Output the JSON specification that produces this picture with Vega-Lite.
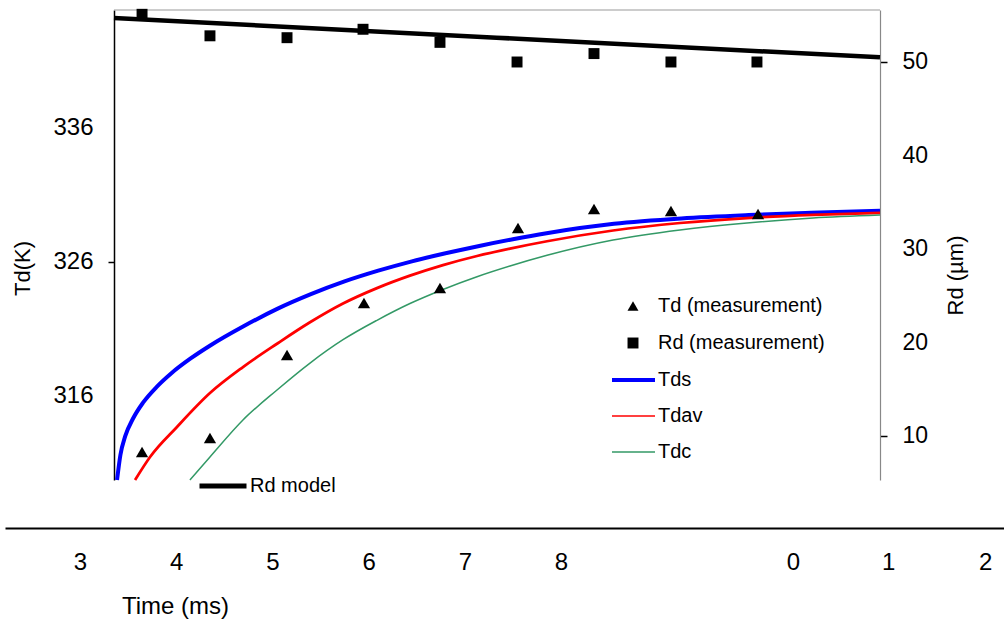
{
  "$schema": "https://vega.github.io/schema/vega-lite/v6.json",
  "width": 999,
  "height": 470,
  "autosize": {"type": "none"},
  "padding": {"left": 5, "top": 10, "right": 0, "bottom": 143},
  "background": "white",
  "config": {
    "view": {"stroke": null},
    "font": "Liberation Sans",
    "axis": {"grid": false, "labelFont": "Liberation Sans", "titleFont": "Liberation Sans", "titleFontWeight": "normal", "labelColor": "black", "titleColor": "black"},
    "legend": {"labelFont": "Liberation Sans", "labelFontSize": 20, "labelColor": "black", "padding": 0, "labelLimit": 0}
  },
  "datasets": {
    "tdModel": [
      {"t": 3.385, "Td": 309.73, "series": "Tds"}, {"t": 3.42, "Td": 311.6, "series": "Tds"}, {"t": 3.47, "Td": 313.0, "series": "Tds"}, {"t": 3.55, "Td": 314.3, "series": "Tds"}, {"t": 3.655, "Td": 315.5, "series": "Tds"}, {"t": 3.8, "Td": 316.7, "series": "Tds"}, {"t": 3.95, "Td": 317.7, "series": "Tds"}, {"t": 4.15, "Td": 318.8, "series": "Tds"}, {"t": 4.35, "Td": 319.75, "series": "Tds"}, {"t": 4.7, "Td": 321.2, "series": "Tds"}, {"t": 5.05, "Td": 322.5, "series": "Tds"}, {"t": 5.4, "Td": 323.6, "series": "Tds"}, {"t": 5.75, "Td": 324.55, "series": "Tds"}, {"t": 6.1, "Td": 325.35, "series": "Tds"}, {"t": 6.45, "Td": 326.05, "series": "Tds"}, {"t": 6.8, "Td": 326.65, "series": "Tds"}, {"t": 7.15, "Td": 327.2, "series": "Tds"}, {"t": 7.5, "Td": 327.7, "series": "Tds"}, {"t": 7.85, "Td": 328.15, "series": "Tds"}, {"t": 8.55, "Td": 328.85, "series": "Tds"}, {"t": 9.25, "Td": 329.25, "series": "Tds"}, {"t": 9.95, "Td": 329.5, "series": "Tds"}, {"t": 10.6, "Td": 329.67, "series": "Tds"}, {"t": 11.316, "Td": 329.82, "series": "Tds"},
      {"t": 3.572, "Td": 309.73, "series": "Tdav"}, {"t": 3.728, "Td": 311.45, "series": "Tdav"}, {"t": 4.008, "Td": 313.69, "series": "Tdav"}, {"t": 4.351, "Td": 316.22, "series": "Tdav"}, {"t": 4.694, "Td": 318.16, "series": "Tdav"}, {"t": 5.048, "Td": 319.9, "series": "Tdav"}, {"t": 5.391, "Td": 321.5, "series": "Tdav"}, {"t": 5.734, "Td": 322.9, "series": "Tdav"}, {"t": 6.087, "Td": 324.05, "series": "Tdav"}, {"t": 6.43, "Td": 324.98, "series": "Tdav"}, {"t": 6.773, "Td": 325.77, "series": "Tdav"}, {"t": 7.127, "Td": 326.45, "series": "Tdav"}, {"t": 7.47, "Td": 327.0, "series": "Tdav"}, {"t": 7.855, "Td": 327.55, "series": "Tdav"}, {"t": 8.541, "Td": 328.35, "series": "Tdav"}, {"t": 9.237, "Td": 328.91, "series": "Tdav"}, {"t": 9.933, "Td": 329.28, "series": "Tdav"}, {"t": 10.62, "Td": 329.51, "series": "Tdav"}, {"t": 11.316, "Td": 329.66, "series": "Tdav"},
      {"t": 4.143, "Td": 309.73, "series": "Tdc"}, {"t": 4.351, "Td": 311.45, "series": "Tdc"}, {"t": 4.694, "Td": 314.21, "series": "Tdc"}, {"t": 5.048, "Td": 316.45, "series": "Tdc"}, {"t": 5.391, "Td": 318.46, "series": "Tdc"}, {"t": 5.734, "Td": 320.2, "series": "Tdc"}, {"t": 6.087, "Td": 321.65, "series": "Tdc"}, {"t": 6.43, "Td": 322.9, "series": "Tdc"}, {"t": 6.773, "Td": 323.95, "series": "Tdc"}, {"t": 7.127, "Td": 324.9, "series": "Tdc"}, {"t": 7.47, "Td": 325.7, "series": "Tdc"}, {"t": 7.855, "Td": 326.5, "series": "Tdc"}, {"t": 8.541, "Td": 327.64, "series": "Tdc"}, {"t": 9.237, "Td": 328.39, "series": "Tdc"}, {"t": 9.933, "Td": 328.91, "series": "Tdc"}, {"t": 10.62, "Td": 329.28, "series": "Tdc"}, {"t": 11.316, "Td": 329.5, "series": "Tdc"}
    ],
    "tdMeas": [
      {"t": 3.645, "Td": 311.82, "series": "Td (measurement)"}, {"t": 4.351, "Td": 312.87, "series": "Td (measurement)"}, {"t": 5.152, "Td": 319.06, "series": "Td (measurement)"}, {"t": 5.952, "Td": 322.94, "series": "Td (measurement)"}, {"t": 6.742, "Td": 324.06, "series": "Td (measurement)"}, {"t": 7.553, "Td": 328.54, "series": "Td (measurement)"}, {"t": 8.343, "Td": 329.96, "series": "Td (measurement)"}, {"t": 9.143, "Td": 329.81, "series": "Td (measurement)"}, {"t": 10.048, "Td": 329.58, "series": "Td (measurement)"}
    ],
    "rdMeas": [
      {"t": 3.645, "Rd": 55.1, "series": "Rd (measurement)"}, {"t": 4.351, "Rd": 52.8, "series": "Rd (measurement)"}, {"t": 5.152, "Rd": 52.6, "series": "Rd (measurement)"}, {"t": 5.942, "Rd": 53.5, "series": "Rd (measurement)"}, {"t": 6.742, "Rd": 52.1, "series": "Rd (measurement)"}, {"t": 7.543, "Rd": 50.0, "series": "Rd (measurement)"}, {"t": 8.343, "Rd": 50.9, "series": "Rd (measurement)"}, {"t": 9.143, "Rd": 50.0, "series": "Rd (measurement)"}, {"t": 10.037, "Rd": 50.0, "series": "Rd (measurement)"}
    ],
    "rdModel": [
      {"t": 3.353, "Rd": 54.7, "series": "Rd model"}, {"t": 7.33, "Rd": 52.6, "series": "Rd model"}, {"t": 11.316, "Rd": 50.5, "series": "Rd model"}
    ]
  },
  "layer": [
    {
      "layer": [
        {
          "data": {"name": "tdModel"},
          "mark": {"type": "line", "interpolate": "monotone"},
          "encoding": {
            "x": {
              "field": "t", "type": "quantitative",
              "scale": {"domain": [2.2204, 12.605], "nice": false, "zero": false},
              "axis": {
                "orient": "bottom", "offset": 48, "values": [3, 4, 5, 6, 7, 8, 10.41, 11.4, 12.41],
                "labelExpr": "'' + (datum.value < 9 ? datum.value : floor(datum.value) - 10)",
                "ticks": false, "tickSize": 0, "labelPadding": 22, "labelFontSize": 24,
                "labelFlush": false, "labelOverlap": false, "labelBound": false,
                "domainColor": "black", "domainWidth": 2,
                "title": "Time (ms)", "titleFontSize": 24, "titleX": 170, "titleY": 85,
                "titleAlign": "center", "titleBaseline": "alphabetic"
              }
            },
            "y": {
              "field": "Td", "type": "quantitative",
              "scale": {"domain": [309.731, 344.806], "nice": false, "zero": false},
              "axis": {
                "orient": "left", "offset": -109, "values": [316, 326, 336],
                "domainColor": "black", "domainWidth": 1.5,
                "tickSize": 6, "tickWidth": 1.5,
                "tickColor": {"condition": {"test": "datum.value === 326", "value": "black"}, "value": "transparent"},
                "labelFontSize": 24, "labelPadding": 15,
                "title": "Td(K)", "titleFontSize": 22, "titleAngle": -90,
                "titleX": -92, "titleY": 258, "titleAlign": "center", "titleBaseline": "middle"
              }
            },
            "color": {
              "field": "series", "type": "nominal",
              "scale": {"domain": ["Tds", "Tdav", "Tdc"], "range": ["#0000ff", "#ff0000", "#339966"]},
              "legend": {
                "orient": "none", "legendX": 618.5, "legendY": 360, "title": null,
                "symbolType": "stroke", "symbolSize": 1849, "labelOffset": 14.5, "rowPadding": 16,
                "encode": {"symbols": {"update": {"strokeWidth": {"signal": "datum.value === 'Tds' ? 4 : 1.5"}}}}
              }
            },
            "strokeWidth": {
              "field": "series", "type": "ordinal",
              "scale": {"domain": ["Tds", "Tdav", "Tdc"], "range": [4, 1.5, 1.3]},
              "legend": null
            }
          }
        },
        {
          "data": {"values": [{}]},
          "mark": {"type": "rule", "color": "#999999", "strokeWidth": 1},
          "encoding": {
            "x": {"datum": 3.353, "type": "quantitative"},
            "x2": {"datum": 11.316},
            "y": {"datum": 344.806, "type": "quantitative"}
          }
        },
        {
          "data": {"name": "tdMeas"},
          "mark": {"type": "point", "filled": true, "color": "black", "opacity": 1, "size": 150},
          "encoding": {
            "x": {"field": "t", "type": "quantitative"},
            "y": {"field": "Td", "type": "quantitative"},
            "shape": {
              "field": "series", "type": "nominal",
              "scale": {"domain": ["Td (measurement)", "Rd (measurement)"], "range": ["triangle-up", "square"]},
              "legend": {
                "orient": "none", "legendX": 618, "legendY": 286, "title": null,
                "symbolSize": 120, "symbolFillColor": "black", "symbolStrokeWidth": 0, "symbolOpacity": 1,
                "labelOffset": 15, "rowPadding": 17
              }
            }
          }
        }
      ]
    },
    {
      "layer": [
        {
          "data": {"name": "rdModel"},
          "mark": {"type": "line", "strokeWidth": 4.5},
          "encoding": {
            "x": {"field": "t", "type": "quantitative"},
            "y": {
              "field": "Rd", "type": "quantitative",
              "scale": {"domain": [5.294, 55.561], "nice": false, "zero": false},
              "axis": {
                "orient": "right", "offset": -124, "values": [10, 20, 30, 40, 50],
                "domainColor": "#888888", "domainWidth": 1.2,
                "tickSize": 7, "tickWidth": 1.5,
                "tickColor": {"condition": {"test": "datum.value === 10 || datum.value === 50", "value": "black"}, "value": "transparent"},
                "labelFontSize": 23, "labelPadding": 15,
                "title": "Rd (µm)", "titleFontSize": 22, "titleAngle": -90,
                "titleX": 75, "titleY": 265, "titleAlign": "center", "titleBaseline": "middle"
              }
            },
            "color": {
              "field": "series", "type": "nominal",
              "scale": {"domain": ["Rd model"], "range": ["black"]},
              "legend": {
                "orient": "none", "legendX": 192, "legendY": 450, "title": null,
                "symbolType": "stroke", "symbolSize": 2209, "symbolStrokeWidth": 5, "labelOffset": 1
              }
            }
          }
        },
        {
          "data": {"name": "rdMeas"},
          "mark": {"type": "point", "filled": true, "color": "black", "opacity": 1, "size": 120},
          "encoding": {
            "x": {"field": "t", "type": "quantitative"},
            "y": {"field": "Rd", "type": "quantitative"},
            "shape": {"field": "series", "type": "nominal"}
          }
        }
      ]
    }
  ],
  "resolve": {"scale": {"y": "independent", "color": "independent"}}
}
